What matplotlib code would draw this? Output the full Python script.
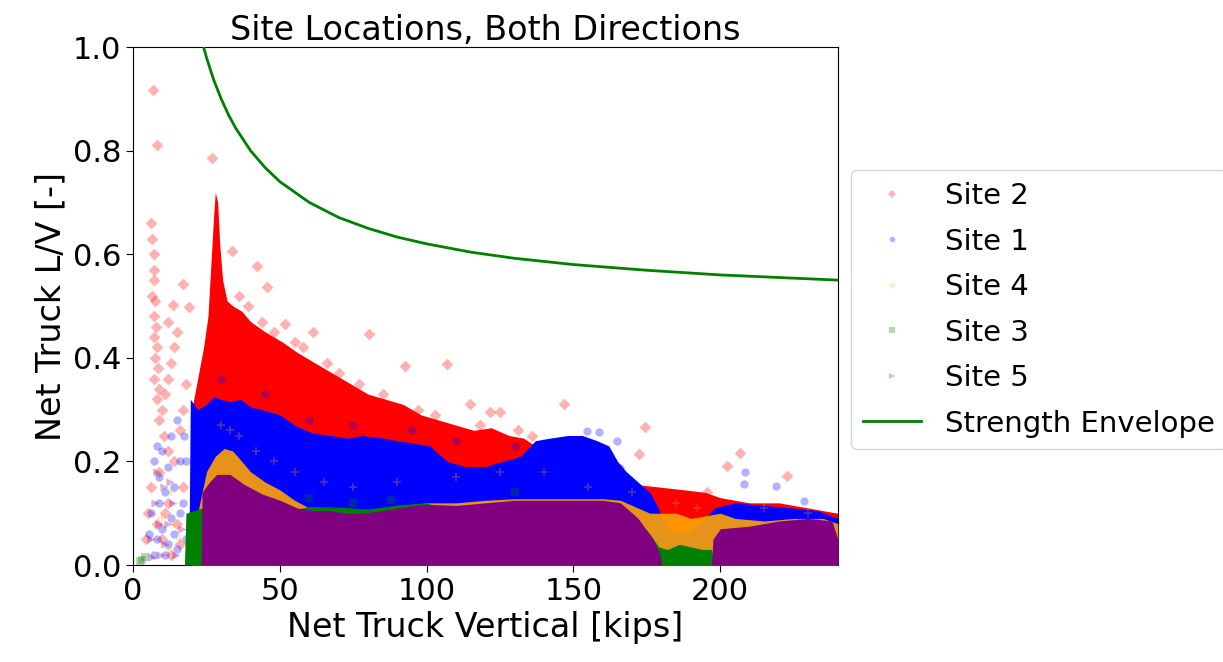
import matplotlib
matplotlib.use("Agg")
import matplotlib.pyplot as plt
from matplotlib.lines import Line2D

# ---------------- data ----------------
# Strength envelope (Net Truck Vertical [kips], L/V)
env_v  = [23.5, 24, 25, 26, 27.5, 30, 32.5, 35, 40, 45, 50, 60, 70, 80, 90, 100, 115, 130, 150, 175, 200, 220, 240]
env_lv = [1.011, 1.0, 0.98, 0.962, 0.936, 0.90, 0.869, 0.843, 0.80, 0.767, 0.74, 0.70, 0.671, 0.65, 0.633, 0.62, 0.604, 0.592, 0.58, 0.569, 0.56, 0.555, 0.55]

# Dense-cloud upper boundaries per site (x in kips, upper L/V)
s2_env_x = [19.5, 20, 22, 24, 25.5, 26.5, 27.5, 28, 28.8, 29.5, 30.5, 32, 34, 37, 40, 45, 51, 56, 62, 68, 74, 80, 86, 92, 98, 104, 110, 116, 122, 128, 133, 137, 142, 150, 158, 165, 172, 180, 188, 195, 200, 210, 220, 230, 240]
s2_env_y = [0.0, 0.30, 0.36, 0.42, 0.48, 0.58, 0.68, 0.72, 0.70, 0.62, 0.55, 0.51, 0.50, 0.49, 0.47, 0.45, 0.43, 0.41, 0.39, 0.37, 0.35, 0.33, 0.32, 0.31, 0.29, 0.28, 0.27, 0.26, 0.265, 0.25, 0.245, 0.23, 0.20, 0.19, 0.18, 0.16, 0.155, 0.15, 0.145, 0.14, 0.13, 0.12, 0.12, 0.11, 0.10]

s1_env_x = [19, 19.5, 22, 25, 27.5, 30, 33, 36.5, 40, 44, 50, 55, 61, 67, 73, 78, 85, 90, 96, 101, 107, 113, 120, 126, 132, 137, 142, 148, 153, 158, 162, 165, 168, 172, 176, 178, 182, 188, 195, 198, 205, 215, 225, 233, 240]
s1_env_y = [0.0, 0.32, 0.30, 0.31, 0.325, 0.32, 0.315, 0.32, 0.305, 0.30, 0.29, 0.27, 0.255, 0.25, 0.245, 0.25, 0.245, 0.24, 0.235, 0.23, 0.20, 0.19, 0.19, 0.20, 0.21, 0.24, 0.245, 0.25, 0.25, 0.24, 0.23, 0.20, 0.18, 0.16, 0.14, 0.12, 0.07, 0.06, 0.09, 0.11, 0.12, 0.115, 0.11, 0.105, 0.09]

s4_env_x = [20, 22, 25, 28, 31, 34, 37, 40, 45, 50, 55, 60, 70, 80, 90, 100, 110, 120, 130, 140, 150, 160, 166, 172, 176, 180, 185, 190, 195, 200, 205, 215, 225, 235, 240]
s4_env_y = [0.0, 0.10, 0.18, 0.21, 0.225, 0.22, 0.20, 0.18, 0.16, 0.145, 0.125, 0.11, 0.108, 0.105, 0.114, 0.12, 0.12, 0.125, 0.128, 0.128, 0.128, 0.128, 0.125, 0.11, 0.10, 0.10, 0.10, 0.09, 0.095, 0.10, 0.09, 0.085, 0.09, 0.09, 0.08]

s3_env_x = [17.5, 18, 23.5, 24, 50, 60, 70, 80, 90, 100, 110, 170, 176, 179, 182, 186, 190, 194, 197, 198, 240]
s3_env_y = [0.0, 0.10, 0.11, 0.10, 0.10, 0.113, 0.112, 0.108, 0.116, 0.12, 0.10, 0.10, 0.06, 0.035, 0.03, 0.04, 0.035, 0.03, 0.03, 0.0, 0.0]

s5_env_x = [23.2, 23.5, 26, 28.5, 33, 38, 44, 50, 56, 62, 67, 73, 78.5, 85, 90, 96, 101, 110, 120, 130, 140, 150, 160, 166, 172, 177, 179.5, 180, 197, 197.5, 200, 210, 220, 230, 238, 240]
s5_env_y = [0.0, 0.14, 0.16, 0.175, 0.175, 0.155, 0.137, 0.125, 0.11, 0.105, 0.105, 0.10, 0.10, 0.105, 0.11, 0.115, 0.117, 0.115, 0.12, 0.125, 0.125, 0.125, 0.125, 0.12, 0.09, 0.05, 0.02, 0.0, 0.0, 0.05, 0.07, 0.075, 0.085, 0.09, 0.085, 0.05]

# Individual (sparse) points per site
s2_pts_x = [6.9, 8.1, 26.8, 42.1, 45.5, 51.8, 61.4, 80.2, 92.7, 106.9, 33.6, 17.1, 13.7, 18.9,
            114.8, 121.7, 125, 146.6, 174.5, 172.2, 206.8, 202.3, 222.7, 195.5,
            6, 6.5, 7, 7.2, 7, 6.5, 7.5, 7, 7.8, 7, 8, 7.5, 8.5, 7.2, 9, 8, 10, 9, 11, 12, 13, 14, 12, 15,
            10.5, 12, 14, 16, 17, 18, 5, 6, 8, 10, 12, 15, 17, 4.5, 9, 16, 13, 11,
            36, 39, 44, 48, 55, 58, 66, 70, 77, 85, 97, 103, 118, 131, 136, 140]
s2_pts_y = [0.917, 0.81, 0.785, 0.578, 0.537, 0.465, 0.45, 0.446, 0.385, 0.388, 0.607, 0.543, 0.501, 0.498,
            0.311, 0.295, 0.295, 0.311, 0.266, 0.214, 0.217, 0.191, 0.172, 0.14,
            0.66, 0.63, 0.60, 0.57, 0.55, 0.52, 0.51, 0.48, 0.46, 0.44, 0.42, 0.40, 0.38, 0.36, 0.34, 0.32, 0.30, 0.28, 0.33, 0.36, 0.39, 0.42, 0.47, 0.45,
            0.25, 0.22, 0.20, 0.26, 0.30, 0.35, 0.10, 0.15, 0.08, 0.05, 0.12, 0.08, 0.15, 0.05, 0.18, 0.04, 0.02, 0.10,
            0.52, 0.50, 0.47, 0.45, 0.43, 0.42, 0.39, 0.37, 0.35, 0.33, 0.30, 0.29, 0.27, 0.26, 0.25, 0.21]

s1_pts_x = [158.6, 154.6, 164.8, 166, 208.5, 208, 218.8, 228.4,
            7, 8, 9, 10, 11, 12, 13, 14, 15, 16, 17, 6, 8, 9, 10, 12, 13, 14, 15, 16, 18, 7, 11, 5.5, 18, 17.5,
            30, 45, 60, 75, 95, 110, 130]
s1_pts_y = [0.256, 0.259, 0.24, 0.188, 0.179, 0.156, 0.153, 0.124,
            0.20, 0.23, 0.17, 0.22, 0.14, 0.19, 0.25, 0.15, 0.28, 0.20, 0.12, 0.10, 0.05, 0.12, 0.07, 0.04, 0.09, 0.06, 0.03, 0.10, 0.05, 0.02, 0.02, 0.06, 0.20, 0.25,
            0.36, 0.33, 0.28, 0.27, 0.26, 0.24, 0.23]

s4_pts_x = [12, 14, 16, 10, 13, 30, 33, 36, 42, 48, 55, 65, 75, 90, 110, 125, 140, 155, 170, 185, 192, 215, 230]
s4_pts_y = [0.03, 0.08, 0.05, 0.09, 0.14, 0.27, 0.26, 0.25, 0.22, 0.20, 0.18, 0.16, 0.15, 0.16, 0.17, 0.18, 0.18, 0.15, 0.14, 0.12, 0.11, 0.11, 0.10]

s3_pts_x = [2.5, 3, 4, 60, 75, 88, 130]
s3_pts_y = [0.008, 0.01, 0.015, 0.13, 0.12, 0.125, 0.14]

s5_pts_x = [6, 7.5, 9, 10.5, 12, 13.5, 8, 11, 14.5, 6.5, 16.5, 9.5, 12.5]
s5_pts_y = [0.05, 0.12, 0.08, 0.15, 0.08, 0.12, 0.18, 0.04, 0.02, 0.015, 0.07, 0.02, 0.16]

sites = [
    ("Site 2", "red",    "D", s2_env_x, s2_env_y, s2_pts_x, s2_pts_y),
    ("Site 1", "blue",   "o", s1_env_x, s1_env_y, s1_pts_x, s1_pts_y),
    ("Site 4", "orange", "+", s4_env_x, s4_env_y, s4_pts_x, s4_pts_y),
    ("Site 3", "green",  "s", s3_env_x, s3_env_y, s3_pts_x, s3_pts_y),
    ("Site 5", "purple", ">", s5_env_x, s5_env_y, s5_pts_x, s5_pts_y),
]

# ---------------- plotting ----------------
plt.rcParams["font.family"] = ["DejaVu Sans"]
fig = plt.figure(figsize=(12.23, 6.62), dpi=100)
ax = fig.add_axes([0.1088, 0.1465, 0.5762, 0.7825])

handles = []
for i, (name, col, mk, ex, ey, px, py) in enumerate(sites):
    z = 2 + i
    alpha_fill = 0.9 if name == "Site 4" else 1.0
    ax.fill_between(ex, 0, ey, color=col, alpha=alpha_fill, linewidth=0, zorder=z)
    ax.scatter(px, py, s=36, marker=mk, color=col, alpha=0.3,
               linewidths=1.2 if mk == "+" else 0, zorder=z + 0.5)
    handles.append(Line2D([], [], linestyle="none", marker=mk, color=col, alpha=0.3, markersize=4,
                          markeredgewidth=1 if mk == "+" else 0, label=name))

line, = ax.plot(env_v, env_lv, color="green", lw=2, zorder=10, label="Strength Envelope")
handles.append(line)

ax.set_xlim(0, 240)
ax.set_ylim(0, 1.0)
ax.set_xticks([0, 50, 100, 150, 200])
ax.set_yticks([0.0, 0.2, 0.4, 0.6, 0.8, 1.0])
ax.tick_params(labelsize=22, length=5)
ax.set_xlabel("Net Truck Vertical [kips]", fontsize=24)
ax.set_ylabel("Net Truck L/V [-]", fontsize=24)
ax.set_title("Site Locations, Both Directions", fontsize=24, pad=5)

fig.legend(handles=handles, loc="center left", bbox_to_anchor=(0.696, 0.532),
           fontsize=21, labelspacing=0.6, borderaxespad=0, frameon=True)

fig.savefig("out.png", dpi=100)
